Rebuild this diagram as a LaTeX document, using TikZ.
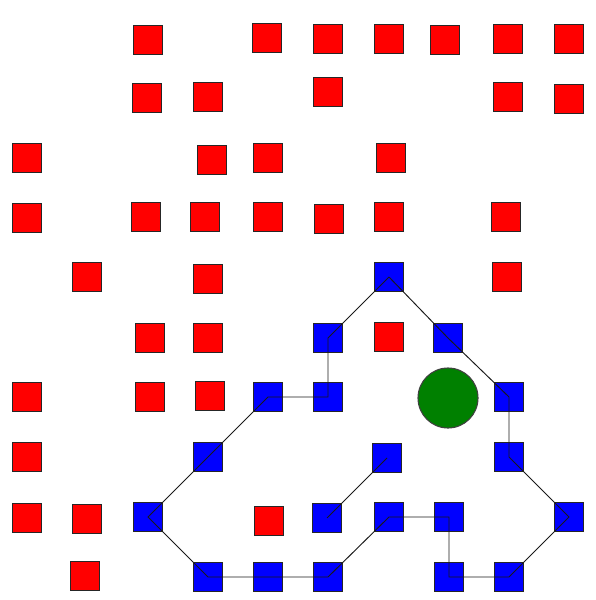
\documentclass[tikz,border=0pt]{standalone}
\usepackage{xcolor}
\definecolor{wall}{HTML}{FF0000}
\definecolor{route}{HTML}{0000FF}
\definecolor{goal}{HTML}{008000}
\tikzset{
  % an obstacle cell
  wallcell/.style={
    draw=black!85, fill=wall, rectangle, line width=0.5pt,
    minimum size=0.483cm, inner sep=0pt},
  % a cell on the found path
  pathcell/.style={
    draw=black!85, fill=route, rectangle, line width=0.5pt,
    minimum size=0.483cm, inner sep=0pt},
  % the target
  goalspot/.style={
    draw=black!75, fill=goal, circle, line width=0.5pt,
    minimum size=1cm, inner sep=0pt},
  % path segments
  link/.style={draw=black!90, line width=0.45pt},
}

\begin{document}
\begin{tikzpicture}[x=0.016667cm, y=-0.016667cm]

  \useasboundingbox (0,0) rectangle (595,600);

  % obstacles
  \foreach \px/\py [count=\i] in {
      148/40, 267/38, 328/39, 389/39, 445/40, 508/39, 569/39,
      147/98, 208/97, 328/92, 508/97, 569/99,
      27/158, 212/160, 268/158, 391/158,
      27/218, 146/217, 205/217, 268/217, 329/219, 389/217, 506/217,
      87/277, 208/279, 507/277,
      150/338, 208/338, 389/337,
      27/397, 150/397, 210/396,
      27/457,
      27/518, 87/519, 269/521,
      85/576}
    \node[wallcell] (r\i) at (\px,\py) {};

  % path cells
  \foreach \px/\py [count=\i] in {
      389/277, 328/338, 328/397, 268/397, 208/457, 148/517,
      208/577, 268/577, 328/577, 389/517, 449/517, 449/577,
      509/577, 569/517, 509/457, 509/397, 448/338}
    \node[pathcell] (p\i) at (\px,\py) {};
  \node[pathcell] (q1) at (387,458) {};
  \node[pathcell] (q2) at (327,518) {};

  \node[goalspot] (goal) at (448,398) {};

  % route
  \draw[link] (p1.center) -- (p2.center) -- (p3.center) -- (p4.center)
    -- (p5.center) -- (p6.center) -- (p7.center) -- (p8.center)
    -- (p9.center) -- (p10.center) -- (p11.center) -- (p12.center)
    -- (p13.center) -- (p14.center) -- (p15.center) -- (p16.center)
    -- (p17.center) -- (p1.center);
  \draw[link] (q1.center) -- (q2.center);

\end{tikzpicture}
\end{document}
